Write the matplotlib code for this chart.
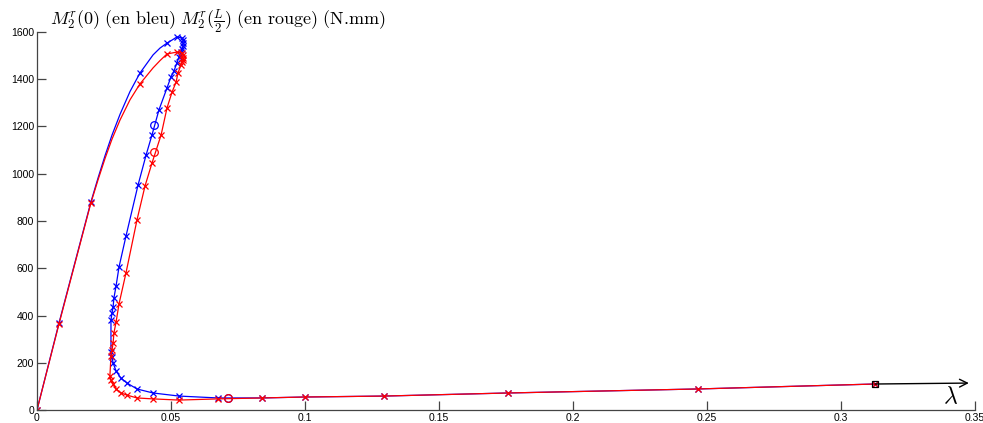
import matplotlib
matplotlib.use("Agg")
import matplotlib.pyplot as plt
import numpy as np

plt.rcParams['mathtext.fontset'] = 'cm'
plt.rcParams['font.family'] = ['Liberation Sans', 'DejaVu Sans']

# M2r(0) -- blue path (lambda, N.mm)
lam_blue = [0.0, 0.0082, 0.0201, 0.0228, 0.0254, 0.0280, 0.0310, 0.0347, 0.0384, 0.0433,
            0.0459, 0.0485, 0.0504, 0.0522, 0.0541,
            0.0545, 0.0545, 0.0545, 0.0541, 0.0537, 0.0530, 0.0522, 0.0511, 0.0500,
            0.0485, 0.0455, 0.0429, 0.0407, 0.0377, 0.0332, 0.0306, 0.0295, 0.0287,
            0.0284, 0.0280, 0.0276, 0.0276, 0.0280, 0.0284, 0.0295, 0.0313, 0.0336,
            0.0373, 0.0433, 0.0530, 0.0675, 0.0840, 0.1000, 0.1295, 0.1757, 0.2466, 0.3127]
m_blue = [0, 368, 880, 983, 1077, 1164, 1252, 1348, 1426, 1503,
          1532, 1553, 1566, 1579, 1575,
          1566, 1553, 1541, 1528, 1515, 1494, 1469, 1435, 1410,
          1363, 1270, 1164, 1079, 952, 736, 605, 525, 474,
          436, 411, 381, 245, 224, 199, 165, 135, 114,
          89, 72, 59, 51, 51, 55, 59, 72, 89, 110]
blue_unmarked = (3, 4, 5, 6, 7, 9, 10, 12)

# M2r(L/2) -- red path
lam_red = [0.0, 0.0082, 0.0201, 0.0228, 0.0254, 0.0280, 0.0310, 0.0347, 0.0384, 0.0433,
           0.0459, 0.0485, 0.0522, 0.0541,
           0.0545, 0.0545, 0.0545, 0.0541, 0.0537, 0.0526, 0.0519, 0.0504, 0.0485,
           0.0463, 0.0429, 0.0403, 0.0373, 0.0332, 0.0306, 0.0295, 0.0287, 0.0284,
           0.0280, 0.0276, 0.0272, 0.0276, 0.0284, 0.0295, 0.0313, 0.0336, 0.0373,
           0.0433, 0.0530, 0.0675, 0.0840, 0.1000, 0.1295, 0.1757, 0.2466, 0.3127]
m_red = [0, 364, 876, 975, 1065, 1147, 1228, 1313, 1380, 1448,
         1479, 1507, 1515, 1511,
         1503, 1490, 1481, 1473, 1460, 1426, 1388, 1346, 1278,
         1164, 1045, 948, 804, 580, 449, 372, 326, 284,
         254, 229, 144, 127, 110, 89, 72, 63, 51,
         47, 42, 47, 51, 55, 59, 72, 89, 110]
red_unmarked = (3, 4, 5, 6, 7, 9, 10)

# special points
circ_blue = ([0.0437, 0.0713], [1206, 51])
circ_red = ([0.0437, 0.0713], [1092, 51])
square_pt = (0.3127, 110)
arrow_tip = (0.3477, 114)

x_ticks = [0, 0.05, 0.1, 0.15, 0.2, 0.25, 0.3, 0.35]
x_labels = ['0', '0.05', '0.1', '0.15', '0.2', '0.25', '0.3', '0.35']
y_ticks = [0, 200, 400, 600, 800, 1000, 1200, 1400, 1600]


def main():
    fig = plt.figure(figsize=(9.83, 4.23), dpi=100)
    ax = fig.add_axes([37 / 983, 13 / 423, 938 / 983, 378 / 423])

    blue_marked = [i for i in range(len(lam_blue)) if i not in blue_unmarked]
    red_marked = [i for i in range(len(lam_red)) if i not in red_unmarked]
    ax.plot(lam_blue, m_blue, color='#0000ff', lw=0.9, marker='x', ms=4, mew=0.9,
            markevery=blue_marked)
    ax.plot(lam_red, m_red, color='#ff0000', lw=0.9, marker='x', ms=4, mew=0.9,
            markevery=red_marked)
    ax.plot(*circ_blue, ls='none', marker='o', ms=5.5, mfc='none', mec='#0000ff', mew=0.9)
    ax.plot(*circ_red, ls='none', marker='o', ms=5.5, mfc='none', mec='#ff0000', mew=0.9)
    ax.plot(*square_pt, marker='s', ms=4.5, mfc='none', mec='black', mew=0.9)

    ax.annotate('', xy=arrow_tip, xytext=square_pt,
                arrowprops=dict(arrowstyle='->', color='black', lw=1.0,
                                mutation_scale=14, shrinkA=0, shrinkB=0))
    ax.text(0.3407, 55, r'$\lambda$', fontsize=17, ha='center', va='center')

    ax.text(50 / 983, 1 - 25 / 423,
            r'$M_2^r(0)\ \mathrm{(en\ bleu)}\ M_2^r(\frac{L}{2})\ \mathrm{(en\ rouge)}\ \mathrm{(N.\!mm)}$',
            transform=fig.transFigure, fontsize=13, ha='left', va='baseline')

    ax.set_xlim(0, 0.35)
    ax.set_ylim(0, 1600)
    ax.set_xticks(x_ticks)
    ax.set_xticklabels(x_labels)
    ax.set_yticks(y_ticks)
    ax.set_yticklabels([str(v) for v in y_ticks])
    for side in ('top', 'right'):
        ax.spines[side].set_visible(False)
    for side in ('left', 'bottom'):
        ax.spines[side].set_color('#444444')
        ax.spines[side].set_linewidth(0.9)
    ax.tick_params(direction='in', length=6.5, width=0.9, color='#444444',
                   labelsize=7.5, pad=2)
    ax.patch.set_alpha(0)

    fig.savefig('out.png', dpi=100)


if __name__ == '__main__':
    main()
